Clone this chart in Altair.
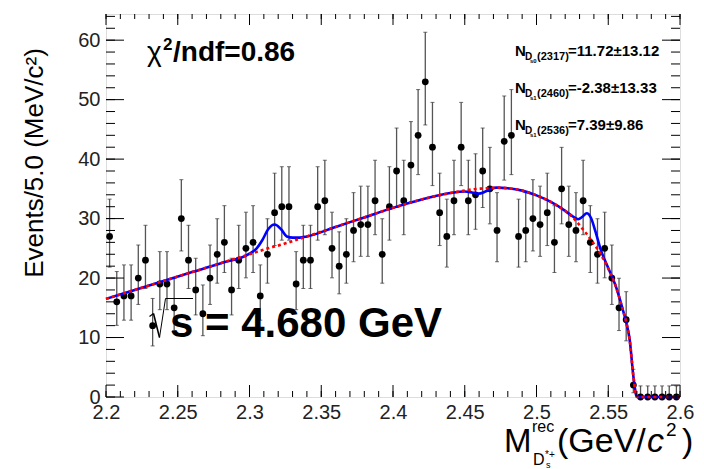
import altair as alt
import numpy as np
import pandas as pd

# ---------------------------------------------------------------------------
# Recoil-mass spectrum: 80 bins of 5 MeV between 2.2 and 2.6 GeV/c^2
# ---------------------------------------------------------------------------
bin_lo = 2.2
bin_width = 0.005
counts = [27, 16, 17, 17, 20, 23, 12, 19, 19, 15,
          30, 23, 18, 14, 20, 24, 26, 18, 23, 25,
          26, 17, 24, 31, 32, 32, 19, 23, 23, 32,
          33, 25, 22, 24, 28, 29, 29, 33, 24, 32,
          38, 33, 39, 44, 53, 42, 31, 27, 33, 42,
          33, 34, 38, 35, 28, 43, 44, 27, 28, 30,
          29, 31, 26, 35, 29, 28, 33, 26, 24, 25,
          20, 15, 13, 2, 0, 0, 0, 0, 0, 0]

# Fit result sampled along the mass axis: total fit and background only
curve_x = [2.200, 2.220, 2.240, 2.260, 2.280, 2.300, 2.305, 2.309, 2.313,
           2.3175, 2.322, 2.326, 2.330, 2.335, 2.340, 2.360, 2.380, 2.400,
           2.420, 2.440, 2.450, 2.455, 2.4595, 2.464, 2.468, 2.472, 2.480,
           2.490, 2.500, 2.510, 2.520, 2.525, 2.529, 2.532, 2.535, 2.538,
           2.541, 2.545, 2.550, 2.555, 2.560, 2.5625, 2.565, 2.5675, 2.570,
           2.600]
curve_bkg = [16.5, 18.0, 19.5, 21.0, 22.5, 24.0, 24.4, 24.7, 25.0,
             25.3, 25.6, 25.9, 26.2, 26.6, 27.0, 28.6, 30.2, 31.8,
             33.2, 34.3, 34.7, 34.9, 35.0, 35.1, 35.15, 35.2, 35.1,
             34.7, 33.9, 32.8, 31.3, 30.3, 29.2, 28.3, 27.4, 26.4,
             25.4, 23.9, 21.6, 18.8, 14.8, 12.6, 9.5, 3.5, 0.0,
             0.0]
curve_tot = [16.5, 18.0, 19.5, 21.0, 22.5, 24.1, 25.0, 26.4, 28.2,
             29.0, 28.2, 27.0, 26.8, 26.8, 27.0, 28.6, 30.2, 31.8,
             33.2, 34.3, 34.55, 34.4, 34.2, 34.5, 34.95, 35.2, 35.1,
             34.7, 33.9, 32.8, 31.3, 30.4, 29.9, 30.3, 30.9, 30.1,
             27.9, 24.6, 21.7, 18.8, 14.8, 12.6, 9.5, 3.5, 0.0,
             0.0]

x_major = [2.2, 2.25, 2.3, 2.35, 2.4, 2.45, 2.5, 2.55, 2.6]
y_major = [0, 10, 20, 30, 40, 50, 60]

X_MIN, X_MAX = 2.2, 2.6
Y_MIN, Y_MAX = 0.0, 64.4

# canvas layout
PAD_L, PAD_T, PAD_R, PAD_B = 106, 14, 24, 72
W, H = 704 - PAD_L - PAD_R, 469 - PAD_T - PAD_B


def poisson_interval(n):
    """Approximate 68.3% Poisson confidence interval (Gehrels)."""
    n = np.asarray(n, dtype=float)
    hi = n + np.sqrt(n + 0.75) + 1.0
    safe = np.where(n > 0, n, 1.0)
    lo = np.where(n > 0, safe * (1 - 1 / (9 * safe) - 1 / (3 * np.sqrt(safe))) ** 3, 0.0)
    return lo, hi


centers = [bin_lo + (i + 0.5) * bin_width for i in range(len(counts))]
err_lo, err_hi = poisson_interval(counts)
hist = pd.DataFrame({"m": centers, "n": counts, "lo": err_lo, "hi": err_hi})
curves = pd.DataFrame({"m": curve_x, "bkg": curve_bkg, "tot": curve_tot})

xs = alt.Scale(domain=[X_MIN, X_MAX], nice=False, zero=False)
ys = alt.Scale(domain=[Y_MIN, Y_MAX], nice=False, zero=False)

base = alt.Chart(hist)

err_lines = base.mark_rule(color="#555555", strokeWidth=1.3).encode(
    x=alt.X("m:Q", scale=xs,
            axis=alt.Axis(values=x_major, format="~g", ticks=False, domain=False,
                          grid=False, labelFontSize=20, labelFont="Liberation Sans",
                          labelColor="#222222", labelPadding=5, labelFlush=False,
                          labelOverlap=False, title=None)),
    y=alt.Y("lo:Q", scale=ys,
            axis=alt.Axis(values=y_major, format="d", ticks=False, domain=False,
                          grid=False, labelFontSize=20, labelFont="Liberation Sans",
                          labelColor="#222222", labelPadding=6, labelFlush=False,
                          labelOverlap=False, title=None)),
    y2="hi:Q",
)
cap_lo = base.mark_tick(orient="horizontal", color="#333333", size=4, thickness=1).encode(
    x=alt.X("m:Q", scale=xs), y=alt.Y("lo:Q", scale=ys))
cap_hi = base.mark_tick(orient="horizontal", color="#333333", size=4, thickness=1).encode(
    x=alt.X("m:Q", scale=xs), y=alt.Y("hi:Q", scale=ys))
points = base.mark_circle(color="black", opacity=1, size=46).encode(
    x=alt.X("m:Q", scale=xs), y=alt.Y("n:Q", scale=ys))

total_line = alt.Chart(curves).mark_line(
    color="#0000ff", strokeWidth=2.6, interpolate="monotone").encode(
    x=alt.X("m:Q", scale=xs), y=alt.Y("tot:Q", scale=ys))
bkg_line = alt.Chart(curves).mark_line(
    color="#ff0000", strokeWidth=2.6, strokeDash=[3, 3], interpolate="monotone").encode(
    x=alt.X("m:Q", scale=xs), y=alt.Y("bkg:Q", scale=ys))

# inward-pointing ticks on all four sides of the frame
x_minor = [round(v, 3) for v in np.arange(2.2, 2.6001, 0.01)]
y_minor = [v for v in range(0, 65, 2)]
xt_major = pd.DataFrame({"m": x_major})
xt_minor = pd.DataFrame({"m": x_minor})
yt_major = pd.DataFrame({"v": y_major})
yt_minor = pd.DataFrame({"v": y_minor})


def xticks(df, length_bottom, length_top):
    c = alt.Chart(df)
    bottom = c.mark_rule(color="black", strokeWidth=1).encode(
        x=alt.X("m:Q", scale=xs), y=alt.value(H), y2=alt.value(H - length_bottom))
    top = c.mark_rule(color="black", strokeWidth=1).encode(
        x=alt.X("m:Q", scale=xs), y=alt.value(0), y2=alt.value(length_top))
    return bottom + top


def yticks(df, length):
    c = alt.Chart(df)
    left = c.mark_rule(color="black", strokeWidth=1).encode(
        y=alt.Y("v:Q", scale=ys), x=alt.value(0), x2=alt.value(length))
    right = c.mark_rule(color="black", strokeWidth=1).encode(
        y=alt.Y("v:Q", scale=ys), x=alt.value(W), x2=alt.value(W - length))
    return left + right


ticks = (xticks(xt_major, 12, 11) + xticks(xt_minor, 6, 5)
         + yticks(yt_major, 18) + yticks(yt_minor, 9))

one_row = pd.DataFrame({"k": [0]})


def label(text, cx, cy, size, weight="normal", style="normal", angle=0,
          align="left", baseline="alphabetic", font="Liberation Sans", color="black"):
    """Text placed in canvas pixel coordinates."""
    return alt.Chart(one_row).mark_text(
        text=text, fontSize=size, fontWeight=weight, fontStyle=style, font=font,
        angle=angle, align=align, baseline=baseline, color=color,
    ).encode(x=alt.value(cx - PAD_L), y=alt.value(cy - PAD_T))


def stroke(x1, y1, x2, y2, width=1.2):
    """Straight line segment in canvas pixel coordinates."""
    return alt.Chart(one_row).mark_rule(color="black", strokeWidth=width).encode(
        x=alt.value(x1 - PAD_L), x2=alt.value(x2 - PAD_L),
        y=alt.value(y1 - PAD_T), y2=alt.value(y2 - PAD_T))


texts = [
    # goodness of fit
    label("\u03c7", 147, 61, 28),
    label("2", 163, 50, 17, weight="bold"),
    label("/ndf=0.86", 173, 61, 28, weight="bold"),
    # centre-of-mass energy
    label("s = 4.680 GeV", 170, 337, 42, weight="bold"),
]

# radical sign over the "s"
radical = [
    stroke(149.5, 316.5, 153.5, 313.5, 1.2),
    stroke(153.5, 313.5, 159.5, 337.5, 1.6),
    stroke(159.5, 337.5, 165.5, 298.5, 1.0),
    stroke(165.5, 298.5, 193.0, 298.5, 1.0),
]

yields = [("s0", "(2317)", "=11.72\u00b113.12", 56),
          ("s1", "(2460)", "=-2.38\u00b113.33", 93),
          ("s1", "(2536)", "=7.39\u00b19.86", 130)]
for sub, state, value, yb in yields:
    texts += [
        label("N", 515, yb, 15, weight="bold"),
        label("D", 525, yb + 4, 10, weight="bold"),
        label(sub, 530, yb + 7, 6, weight="bold"),
        label(state, 537, yb + 4, 11, weight="bold"),
        label(value, 568, yb, 15, weight="bold"),
    ]

# axis titles
texts += [
    label("Events/5.0 (MeV/c\u00b2)", 43, 163, 26, angle=270, align="center"),
    label("M", 504, 452, 33),
    label("rec", 532, 432, 16),
    label("D", 533, 465, 16),
    label("*+", 545, 458, 10),
    label("s", 546, 468, 9),
    label("(GeV/", 557, 452, 34),
    label("c", 647, 452, 34, style="italic"),
    label("2", 666, 436, 19),
    label(")", 682, 452, 34),
]

chart = alt.layer(
    err_lines, cap_lo, cap_hi, points, total_line, bkg_line, ticks, *radical, *texts
).properties(
    width=W, height=H,
    autosize=alt.AutoSizeParams(type="none"),
    padding={"left": PAD_L, "top": PAD_T, "right": PAD_R, "bottom": PAD_B},
).configure_view(
    stroke="black", strokeWidth=1.5, fill="white"
).configure(background="white")

chart.save("out.html", embed_options={"renderer": "svg", "actions": False})
